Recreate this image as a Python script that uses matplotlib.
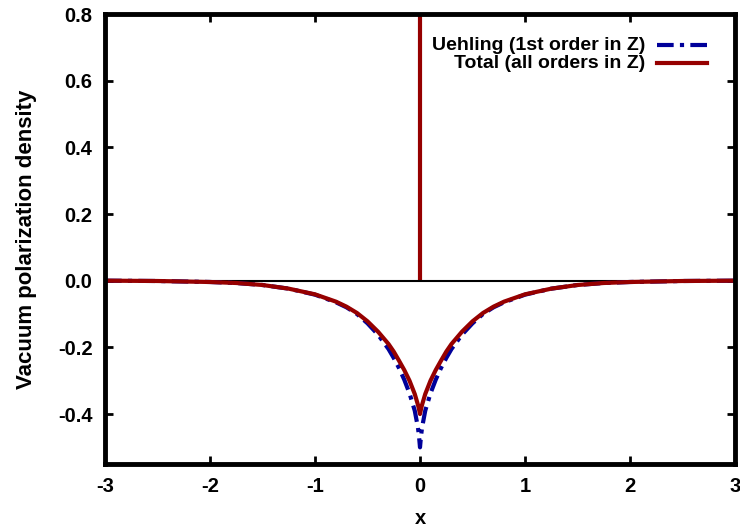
import matplotlib
matplotlib.use("Agg")
import matplotlib.pyplot as plt

plt.rcParams['font.family'] = ['Liberation Sans', 'DejaVu Sans']
plt.rcParams['font.weight'] = 'bold'

# Data
x_vals = [-3.0, -2.5, -2.0, -1.75, -1.5, -1.25, -1.0, -0.8, -0.7, -0.6, -0.5, -0.4,
          -0.3, -0.25, -0.2, -0.15, -0.1, -0.05, -0.02, -0.01, 0.0,
          0.01, 0.02, 0.05, 0.1, 0.15, 0.2, 0.25, 0.3, 0.4, 0.5, 0.6, 0.7, 0.8,
          1.0, 1.25, 1.5, 1.75, 2.0, 2.5, 3.0]
uehling = [0.0, -0.001, -0.004, -0.007, -0.013, -0.024, -0.042, -0.065, -0.080, -0.100,
           -0.128, -0.162, -0.205, -0.232, -0.262, -0.297, -0.338, -0.390, -0.44,
           -0.465, -0.50,
           -0.465, -0.44, -0.390, -0.338, -0.297, -0.262, -0.232, -0.205, -0.162,
           -0.128, -0.100, -0.080, -0.065, -0.042, -0.024, -0.013, -0.007, -0.004,
           -0.001, 0.0]
total = [0.0, -0.001, -0.004, -0.007, -0.013, -0.024, -0.041, -0.063, -0.078, -0.097,
         -0.122, -0.153, -0.190, -0.213, -0.240, -0.268, -0.300, -0.340, -0.372,
         -0.385, -0.40,
         -0.385, -0.372, -0.340, -0.300, -0.268, -0.240, -0.213, -0.190, -0.153,
         -0.122, -0.097, -0.078, -0.063, -0.041, -0.024, -0.013, -0.007, -0.004,
         -0.001, 0.0]
spike_x = [0.0, 0.0]
spike_y = [0.0, 1.0]

x_ticks = [-3, -2, -1, 0, 1, 2, 3]
y_ticks = [-0.4, -0.2, 0.0, 0.2, 0.4, 0.6, 0.8]
label_ueh = "Uehling (1st order in Z)"
label_tot = "Total (all orders in Z)"

blue = '#00009a'
red = '#960000'

fig = plt.figure(figsize=(7.4, 5.29), dpi=100)
ax = fig.add_axes([105/740, (529-464)/529, 630/740, 450/529])

ax.axhline(0.0, color='black', lw=1.5, zorder=3)
ax.plot(spike_x, spike_y, color=red, lw=3, zorder=2, solid_capstyle='butt')
ax.plot(x_vals, uehling, color=blue, lw=3, dashes=(4, 1.5, 1, 1.5), zorder=4)
ax.plot(x_vals, total, color=red, lw=3, zorder=5)

ax.set_xlim(-3, 3)
ax.set_ylim(-0.55, 0.8)
ax.set_xticks(x_ticks)
ax.set_xticklabels([str(t) for t in x_ticks])
ax.set_yticks(y_ticks)
ax.set_yticklabels([f"{t:.1f}" for t in y_ticks])

for s in ax.spines.values():
    s.set_linewidth(3.5)
    s.set_zorder(10)
ax.tick_params(direction='in', length=6, width=2, top=True, right=True,
               labelsize=14.5, pad=9)
for lab in ax.get_xticklabels() + ax.get_yticklabels():
    lab.set_fontweight('bold')

ax.set_xlabel('x', fontsize=14.5, fontweight='bold', labelpad=10)
ax.set_ylabel('Vacuum polarization density', fontsize=16, fontweight='bold', labelpad=15)

# Legend (gnuplot style: text right-aligned, sample to the right)
tx = (645-105)/630
lx0 = (657-105)/630
lx1 = (707-105)/630
ys = [(464-45)/450, (464-63)/450]
ax.text(tx, ys[0], label_ueh, transform=ax.transAxes, ha='right', va='center',
        fontsize=14, fontweight='bold', zorder=11)
ax.plot([lx0, lx1], [ys[0], ys[0]], transform=ax.transAxes, color=blue, lw=3,
        dashes=(4, 1.5, 1, 1.5), clip_on=False, zorder=11)
ax.text(tx, ys[1], label_tot, transform=ax.transAxes, ha='right', va='center',
        fontsize=14, fontweight='bold', zorder=11)
ax.plot([lx0, lx1], [ys[1], ys[1]], transform=ax.transAxes, color=red, lw=3,
        clip_on=False, zorder=11)

fig.savefig('out.png', dpi=100)
